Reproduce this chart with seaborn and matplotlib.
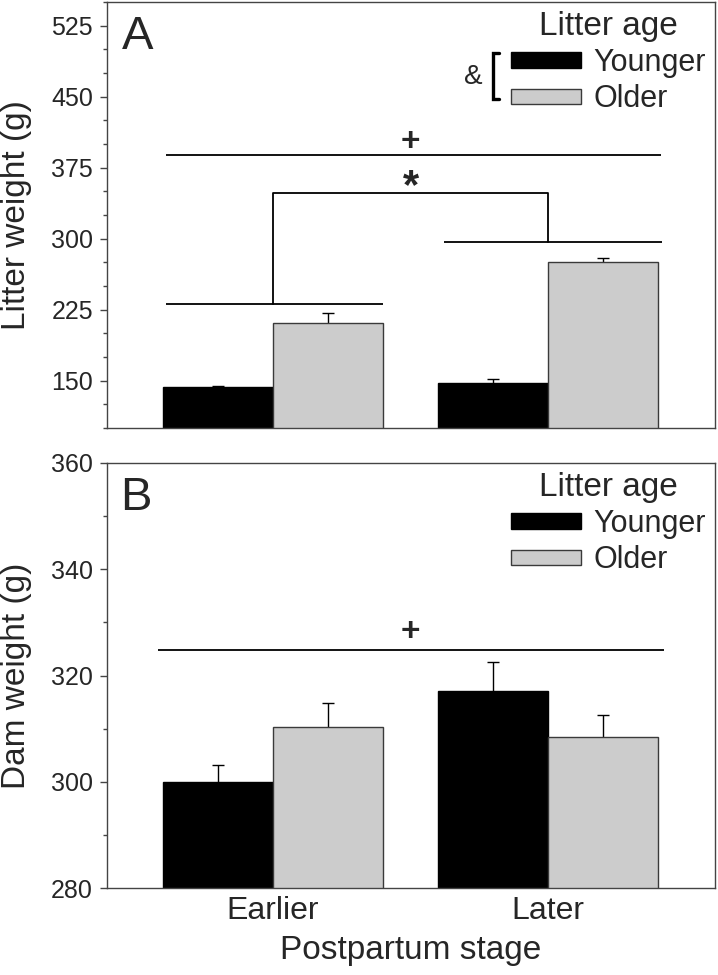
import numpy as np
import pandas as pd
import matplotlib
matplotlib.use('Agg')
import matplotlib.pyplot as plt
from matplotlib.patches import Patch
import seaborn as sns

# ---- data ----
stages = ['Earlier', 'Later']
ages = ['Younger', 'Older']

litter_younger = [142.8, 147.1]
litter_older = [211.0, 275.0]
litter_younger_se = [2.0, 4.9]
litter_older_se = [10.2, 4.2]

dam_younger = [300.0, 317.1]
dam_older = [310.4, 308.5]
dam_younger_se = [3.1, 5.4]
dam_older_se = [4.5, 4.1]

litter_ticks = [150, 225, 300, 375, 450, 525]
dam_ticks = [280, 300, 320, 340, 360]

colors = {'Younger': '#000000', 'Older': '#cccccc'}
edge_colors = {'Younger': '#000000', 'Older': '#3a3a3a'}

sns.set_style('ticks')
plt.rcParams['font.family'] = ['Liberation Sans', 'DejaVu Sans']

W, H = 718, 975


def make_df(younger, older):
    return pd.DataFrame({
        'stage': stages * 2,
        'age': ['Younger'] * 2 + ['Older'] * 2,
        'value': list(younger) + list(older),
    })


def axes_rect(left, right, top, bottom):
    """pixel box -> figure fraction rect"""
    return [left / W, 1 - bottom / H, (right - left) / W, (bottom - top) / H]


def draw_panel(ax, younger, older, y_se, o_se):
    df = make_df(younger, older)
    sns.barplot(data=df, x='stage', y='value', hue='age', order=stages,
                hue_order=ages, palette=colors, width=0.8, errorbar=None,
                legend=False, saturation=1, ax=ax, zorder=2)
    se = {'Younger': y_se, 'Older': o_se}
    for age, cont in zip(ages, ax.containers):
        xs, ys = [], []
        for bar in cont:
            bar.set_edgecolor(edge_colors[age])
            bar.set_linewidth(1.0)
            xs.append(bar.get_x() + bar.get_width() / 2)
            ys.append(bar.get_height())
        # drawn under the bars so only the upper half shows
        ax.errorbar(xs, ys, yerr=se[age], fmt='none', ecolor='black',
                    elinewidth=1.0, capsize=4.5, capthick=1.0, zorder=1)
    ax.set_xlim(-0.604, 1.607)
    for sp in ax.spines.values():
        sp.set_color('#444444')
        sp.set_linewidth(1.0)
    ax.tick_params(axis='x', length=0, labelsize=23, pad=6)
    ax.tick_params(axis='y', which='major', length=5, width=1,
                   color='#444444', labelsize=18, pad=5)
    ax.tick_params(axis='y', which='minor', length=3, width=1,
                   color='#444444')
    ax.set_xlabel('')


def add_legend(ax):
    handles = [Patch(facecolor=colors[a], edgecolor=edge_colors[a],
                     linewidth=1.0) for a in ages]
    ax.legend(handles, ages, title='Litter age', loc='upper right',
              bbox_to_anchor=(1, 1), frameon=False, fontsize=22,
              title_fontsize=24, handlelength=2.3, handleheight=0.42,
              handletextpad=0.4, labelspacing=0.2, borderpad=0,
              borderaxespad=0.3)


fig = plt.figure(figsize=(W / 100, H / 100), dpi=100)

# ---- panel A: litter weight ----
ax_a = fig.add_axes(axes_rect(107, 715, 2, 428))
draw_panel(ax_a, litter_younger, litter_older,
           litter_younger_se, litter_older_se)
ax_a.set_ylim(100, 550)
ax_a.set_yticks(litter_ticks)
ax_a.set_yticks([v for v in range(100, 551, 25) if v not in litter_ticks],
                minor=True)
ax_a.set_xticklabels([])
ax_a.set_ylabel('Litter weight (g)', fontsize=24)
ax_a.yaxis.set_label_coords(-0.123, 0.5)
add_legend(ax_a)
ax_a.text(0.025, 0.97, 'A', transform=ax_a.transAxes, fontsize=34,
          ha='left', va='top')

# significance marks, panel A
ax_a.hlines(388, -0.39, 1.41, color='black', lw=1.3)
ax_a.text(0.5, 402, '+', ha='center', va='center', fontsize=24,
          fontweight='bold')
ax_a.text(0.5, 343, '*', ha='center', va='baseline', fontsize=30,
          fontweight='bold')
ax_a.plot([0, 0, 1, 1], [230.5, 348, 348, 296.5], color='black', lw=1.3)
ax_a.hlines(230.5, -0.39, 0.40, color='black', lw=1.3)
ax_a.hlines(296.5, 0.62, 1.415, color='black', lw=1.3)


# "&[" next to the legend (axes fraction from pixel positions)
def ax_px(x, y):
    return (x - 107) / 608, (428 - y) / 426


ax_a.text(*ax_px(473, 77), '&', transform=ax_a.transAxes, fontsize=20,
          ha='center', va='center')
bx = [ax_px(499, 53), ax_px(493, 53), ax_px(493, 99), ax_px(499, 99)]
ax_a.plot([p[0] for p in bx], [p[1] for p in bx], transform=ax_a.transAxes,
          color='black', lw=2.4, clip_on=False, solid_joinstyle='miter')

# ---- panel B: dam weight ----
ax_b = fig.add_axes(axes_rect(107, 715, 463, 888))
draw_panel(ax_b, dam_younger, dam_older, dam_younger_se, dam_older_se)
ax_b.set_ylim(280, 360)
ax_b.set_yticks(dam_ticks)
ax_b.set_yticks([290, 310, 330, 350], minor=True)
ax_b.set_ylabel('Dam weight (g)', fontsize=24)
ax_b.yaxis.set_label_coords(-0.123, 0.5)
ax_b.set_xlabel('Postpartum stage', fontsize=24)
ax_b.xaxis.set_label_coords(0.5, -0.11)
add_legend(ax_b)
ax_b.text(0.022, 0.97, 'B', transform=ax_b.transAxes, fontsize=34,
          ha='left', va='top')

ax_b.hlines(324.8, -0.42, 1.42, color='black', lw=1.3)
ax_b.text(0.5, 328.0, '+', ha='center', va='center', fontsize=24,
          fontweight='bold')

fig.savefig('out.png', dpi=100)
